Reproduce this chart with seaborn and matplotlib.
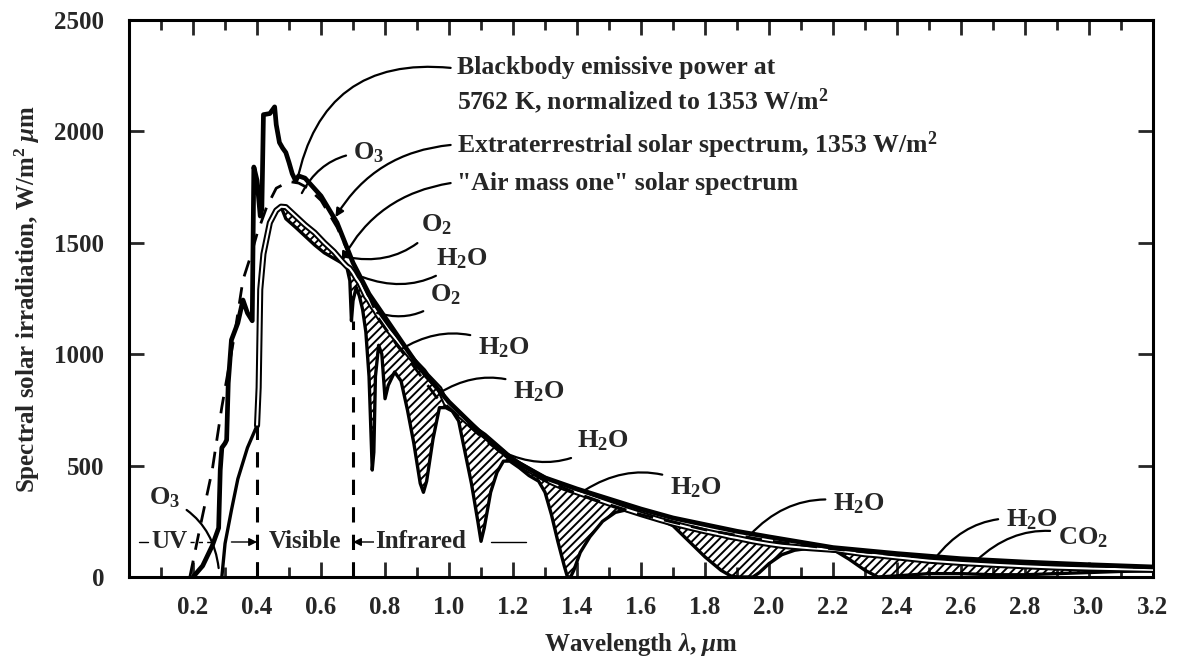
import numpy as np
import pandas as pd
import matplotlib
matplotlib.use("Agg")
import matplotlib.pyplot as plt
import seaborn as sns

# ---------------- data ----------------
# Blackbody emissive power at 5762 K, normalized to 1353 W/m2 (dashed)
bb_wl = [0.19, 0.22, 0.26, 0.29, 0.33, 0.356, 0.38, 0.40, 0.43, 0.46, 0.50, 0.53,
         0.56, 0.60, 0.65, 0.70, 0.75, 0.78, 0.84, 0.89, 0.96, 1.00, 1.10, 1.20,
         1.30, 1.40, 1.50, 1.60, 1.80, 2.00, 2.20, 2.40, 2.60, 2.80, 3.00, 3.20]
bb_val = [0, 210, 480, 763, 1090, 1333, 1440, 1540, 1660, 1745, 1775, 1768,
          1745, 1690, 1570, 1410, 1260, 1160, 1035, 945, 808, 760, 630, 515,
          435, 375, 325, 280, 212, 162, 126, 98, 78, 63, 51, 42]

# Extraterrestrial solar spectrum, 1353 W/m2 (thick solid)
et_wl = [0.20, 0.23, 0.26, 0.28, 0.285, 0.29, 0.30, 0.305, 0.31, 0.32, 0.34, 0.356,
         0.37, 0.385, 0.39, 0.40, 0.41, 0.415, 0.42, 0.44, 0.455, 0.46, 0.47, 0.48,
         0.49, 0.50, 0.51, 0.52, 0.53, 0.55, 0.60, 0.65, 0.70, 0.75, 0.80, 0.90,
         1.00, 1.10, 1.20, 1.30, 1.40, 1.50, 1.60, 1.70, 1.80, 1.90, 2.00, 2.20,
         2.40, 2.60, 2.80, 3.00, 3.20]
et_val = [0, 50, 140, 220, 480, 580, 600, 615, 870, 1064, 1140, 1243,
          1185, 1150, 1840, 1780, 1620, 1650, 2075, 2080, 2110, 2030, 1950, 1925,
          1905, 1860, 1810, 1780, 1800, 1790, 1710, 1590, 1410, 1270, 1165, 955,
          785, 645, 525, 445, 395, 350, 305, 265, 235, 205, 180, 132,
          105, 82, 67, 55, 45]

# "Air mass one" solar spectrum: envelope without absorption, and actual curve
sea_wl = [0.29, 0.30, 0.32, 0.34, 0.37, 0.40, 0.405, 0.41, 0.42, 0.44, 0.46, 0.475,
          0.49, 0.52, 0.55, 0.58, 0.61, 0.64, 0.67, 0.68, 0.69, 0.695, 0.70, 0.71,
          0.72, 0.73, 0.74, 0.75, 0.76, 0.765, 0.77, 0.78, 0.79, 0.80, 0.81, 0.83,
          0.85, 0.87, 0.89, 0.91, 0.92, 0.93, 0.95, 0.97, 0.99, 1.01, 1.03, 1.05,
          1.07, 1.09, 1.10, 1.11, 1.13, 1.15, 1.17, 1.19, 1.22, 1.25, 1.28, 1.30,
          1.32, 1.34, 1.36, 1.37, 1.38, 1.39, 1.41, 1.44, 1.48, 1.52, 1.55, 1.60,
          1.66, 1.70, 1.75, 1.80, 1.85, 1.88, 1.90, 1.95, 1.97, 2.00, 2.04, 2.08,
          2.12, 2.17, 2.21, 2.25, 2.30, 2.34, 2.40, 2.50, 2.60, 2.70, 2.80, 2.90,
          3.00, 3.10, 3.20]
sea_envelope = [0, 150, 300, 440, 580, 680, 850, 1290, 1450, 1590, 1645, 1662,
                1660, 1620, 1580, 1545, 1500, 1460, 1410, 1395, 1385, 1375, 1365, 1340,
                1320, 1290, 1260, 1240, 1215, 1205, 1195, 1170, 1150, 1130, 1110, 1075,
                1040, 1005, 970, 940, 925, 905, 875, 845, 780, 755, 730, 705,
                680, 655, 645, 635, 610, 585, 560, 535, 505, 480, 455, 440,
                425, 412, 400, 395, 390, 385, 375, 360, 340, 320, 305, 282,
                256, 240, 222, 205, 190, 180, 175, 160, 155, 148, 140, 135,
                130, 125, 121, 112, 102, 97, 88, 73, 63, 55, 48, 42,
                38, 35, 32]
air_mass_one = [0, 150, 300, 440, 580, 680, 850, 1290, 1450, 1590, 1645, 1662,
                1608, 1570, 1530, 1490, 1455, 1430, 1405, 1395, 1330, 1150, 1240, 1300,
                1260, 1200, 1100, 900, 480, 560, 900, 1040, 1000, 800, 860, 920,
                880, 750, 600, 420, 380, 430, 620, 760, 760, 745, 700, 560,
                420, 250, 160, 220, 380, 470, 520, 520, 490, 455, 430, 380,
                280, 160, 50, 0, 0, 30, 110, 180, 250, 290, 300, 282,
                256, 230, 160, 90, 30, 5, 0, 0, 20, 60, 100, 120,
                128, 125, 115, 80, 30, 0, 5, 15, 15, 10, 10, 15,
                20, 25, 28]

# Visible band limits and heights of the dashed markers
band_edges = [0.4, 0.7]
band_edge_tops = [680, 1150]

# Absorber labels: text, label position, point on the curve
absorber_labels = ["O$_3$", "O$_2$", "H$_2$O", "O$_2$", "H$_2$O", "H$_2$O",
                   "H$_2$O", "H$_2$O", "H$_2$O", "H$_2$O", "CO$_2$", "O$_3$"]
absorber_text_x = [0.75, 0.96, 1.04, 0.99, 1.17, 1.28, 1.48, 1.77, 2.28, 2.82, 2.98, 0.11]
absorber_text_y = [1905, 1580, 1430, 1265, 1028, 830, 610, 400, 328, 256, 178, 355]
absorber_tip_x = [0.54, 0.68, 0.73, 0.775, 0.847, 0.97, 1.17, 1.425, 1.94, 2.52, 2.65, 0.28]
absorber_tip_y = [1723, 1436, 1346, 1185, 1019, 826, 560, 390, 188, 85, 76, 40]

# Curve description labels
desc_lines = ["Blackbody emissive power at",
              "5762 K, normalized to 1353 W/m$^{2}$",
              "Extraterrestrial solar spectrum, 1353 W/m$^{2}$",
              "\"Air mass one\" solar spectrum"]
desc_y = [2285, 2136, 1939, 1768]

x_ticks = [0.2, 0.4, 0.6, 0.8, 1.0, 1.2, 1.4, 1.6, 1.8, 2.0, 2.2, 2.4, 2.6, 2.8, 3.0, 3.2]
y_ticks = [0, 500, 1000, 1500, 2000, 2500]

# ---------------- style ----------------
sns.set_theme(style="ticks")
plt.rcParams["font.family"] = ["Liberation Serif", "DejaVu Serif"]
plt.rcParams["font.weight"] = "bold"
plt.rcParams["axes.labelweight"] = "bold"
plt.rcParams["mathtext.fontset"] = "custom"
plt.rcParams["mathtext.rm"] = "Liberation Serif:weight=bold"
plt.rcParams["mathtext.it"] = "Liberation Serif:style=italic:weight=bold"
plt.rcParams["mathtext.bf"] = "Liberation Serif:weight=bold"
plt.rcParams["mathtext.default"] = "rm"
plt.rcParams["hatch.linewidth"] = 1.4
plt.rcParams["hatch.color"] = "black"

FS = 18
FS_LAB = 19
FS_DESC = 18.5

fig = plt.figure(figsize=(11.85, 6.57), dpi=100)
ax = fig.add_axes([0.1089, 0.1218, 0.8641, 0.8478])

bb = pd.DataFrame({"wl": bb_wl, "val": bb_val})
et = pd.DataFrame({"wl": et_wl, "val": et_val})
sea = pd.DataFrame({"wl": sea_wl, "env": sea_envelope, "am1": air_mass_one})

# absorption hatch between envelope and actual air-mass-one curve
env_arr = np.array(sea_envelope, dtype=float)
am1_arr = np.array(air_mass_one, dtype=float)
ax.fill_between(sea_wl, am1_arr, env_arr, where=env_arr > am1_arr, interpolate=True,
                facecolor="none", edgecolor="black", hatch="////", linewidth=0, zorder=1)

# air mass one curve
sns.lineplot(data=sea, x="wl", y="am1", ax=ax, color="black", lw=2.4,
             estimator=None, sort=False, zorder=3)
# envelope drawn as a double line
env_vis = sea[sea["wl"] >= band_edges[0]]
sns.lineplot(data=env_vis, x="wl", y="env", ax=ax, color="black", lw=4.4,
             estimator=None, sort=False, zorder=4)
sns.lineplot(data=env_vis, x="wl", y="env", ax=ax, color="white", lw=1.5,
             estimator=None, sort=False, zorder=5)
# blackbody dashed
sns.lineplot(data=bb, x="wl", y="val", ax=ax, color="black", lw=2.0,
             estimator=None, sort=False, zorder=6)
ax.lines[-1].set_dashes([6, 4])
# extraterrestrial thick
sns.lineplot(data=et, x="wl", y="val", ax=ax, color="black", lw=3.4,
             estimator=None, sort=False, zorder=7)

# visible band dashed markers
ax.vlines(band_edges, 0, band_edge_tops, colors="black", linestyles=(0, (5, 4)), lw=2.2, zorder=6)

# band names row
band_y = 157
box = dict(facecolor="white", edgecolor="none", pad=0.5)
ax.text(0.125, band_y, "UV", ha="center", va="center", fontsize=FS, zorder=8, bbox=box)
ax.text((band_edges[0] + band_edges[1]) / 2, band_y, "Visible", ha="center", va="center",
        fontsize=FS, zorder=8, bbox=box)
ax.text(0.91, band_y, "Infrared", ha="center", va="center", fontsize=FS, zorder=8, bbox=box)
ax.plot([0.03, 0.06], [band_y, band_y], color="black", lw=1.0)
ax.plot([0.19, 0.26], [band_y, band_y], color="black", lw=1.0, ls=(0, (3, 3)))
ax.annotate("", xy=(band_edges[0], band_y), xytext=(0.32, band_y),
            arrowprops=dict(arrowstyle="-|>", color="black", lw=1.0, mutation_scale=12,
                            shrinkA=0, shrinkB=0))
ax.annotate("", xy=(band_edges[1], band_y), xytext=(0.78, band_y),
            arrowprops=dict(arrowstyle="-|>", color="black", lw=1.0, mutation_scale=12,
                            shrinkA=0, shrinkB=0))
ax.plot([1.13, 1.24], [band_y, band_y], color="black", lw=1.0)

# absorber labels with leader lines
rads = [0.3, -0.3, -0.3, -0.3, 0.3, 0.3, -0.3, 0.3, 0.3, 0.3, 0.3, -0.3]
for lab, tx, ty, px, py, r in zip(absorber_labels, absorber_text_x, absorber_text_y,
                                  absorber_tip_x, absorber_tip_y, rads):
    ax.annotate(lab, xy=(px, py), xytext=(tx, ty), ha="center", va="center",
                fontsize=FS_LAB, zorder=9,
                arrowprops=dict(arrowstyle="-", color="black", lw=1.6,
                                connectionstyle=f"arc3,rad={r}", shrinkA=3, shrinkB=0))

# curve description texts
desc_x = 1.025
for txt, yy in zip(desc_lines, desc_y):
    ax.text(desc_x, yy, txt, ha="left", va="center", fontsize=FS_DESC, zorder=9)

# leaders for descriptions
ax.annotate("", xy=(0.525, 1775), xytext=(desc_x - 0.02, desc_y[0]),
            arrowprops=dict(arrowstyle="-", color="black", lw=1.6,
                            connectionstyle="arc3,rad=0.45", shrinkA=0, shrinkB=0))
ax.annotate("", xy=(0.645, 1615), xytext=(desc_x - 0.02, desc_y[2]),
            arrowprops=dict(arrowstyle="-|>", color="black", lw=1.6, mutation_scale=12,
                            connectionstyle="arc3,rad=0.25", shrinkA=0, shrinkB=0))
ax.annotate("", xy=(0.665, 1420), xytext=(desc_x - 0.02, desc_y[3]),
            arrowprops=dict(arrowstyle="-|>", color="black", lw=1.6, mutation_scale=12,
                            connectionstyle="arc3,rad=0.25", shrinkA=0, shrinkB=0))

# axes formatting
ax.set_xlim(0, 3.2)
ax.set_ylim(0, 2500)
ax.set_xticks(x_ticks)
ax.set_xticklabels([f"{v:.1f}" for v in x_ticks])
ax.set_xticks(np.arange(1, 32) / 10, minor=True)
ax.set_yticks(y_ticks)
ax.set_yticklabels([str(v) for v in y_ticks])
ax.tick_params(axis="x", which="major", direction="in", length=11, width=2,
               top=True, bottom=True, labelsize=FS, pad=14)
ax.tick_params(axis="x", which="minor", direction="in", length=7, width=2,
               top=True, bottom=True)
ax.tick_params(axis="y", which="major", direction="in", length=11, width=2,
               left=True, right=True, labelsize=FS, pad=18)
for s in ax.spines.values():
    s.set_linewidth(2.2)
    s.set_color("black")
    s.set_visible(True)

ax.set_xlabel("Wavelength $\\mathit{\\lambda}$, $\\mathit{\\mu}$m", fontsize=FS, labelpad=8)
ax.set_ylabel("Spectral solar irradiation, W/m$^2$ $\\mathit{\\mu}$m", fontsize=FS, labelpad=9)

fig.savefig("out.png", dpi=100)
